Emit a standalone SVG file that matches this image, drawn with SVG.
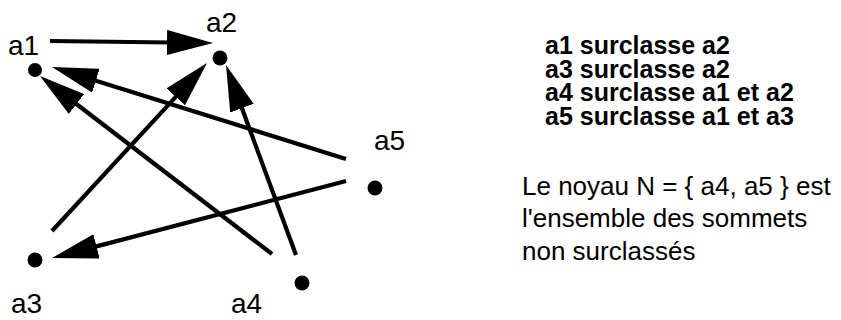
<svg xmlns="http://www.w3.org/2000/svg" width="841" height="320" viewBox="0 0 841 320">
<style>
  text { font-family: "Liberation Sans", Arial, sans-serif; fill: #000; }
  .lbl { font-size: 28px; }
  .txt { font-size: 26px; }
  .txtb { font-size: 25px; font-weight: bold; }
  .dot { fill: #000; }
  .edge { stroke: #000; stroke-width: 4.2; fill: none; marker-end: url(#head); }
</style>
<defs>
  <marker id="head" markerUnits="userSpaceOnUse" markerWidth="46" markerHeight="25" refX="5" refY="12.5" orient="auto" viewBox="0 0 46 25">
    <path d="M0,0 L46,12.5 L0,25 z" fill="#000"/>
  </marker>
</defs>
<rect width="841" height="320" fill="#fff"/>
<g id="connectors">
  <line class="edge" x1="50" y1="41" x2="172" y2="42.5"/>
  <line class="edge" x1="346" y1="159" x2="91.1" y2="79.2"/>
  <line class="edge" x1="272" y1="254" x2="72.5" y2="101"/>
  <line class="edge" x1="52" y1="231" x2="179.2" y2="93.1"/>
  <line class="edge" x1="296" y1="255" x2="240.2" y2="103.5"/>
  <line class="edge" x1="346" y1="181" x2="91.7" y2="247.6"/>
</g>
<g id="a1"><circle class="dot" cx="35" cy="70" r="7"/><text class="lbl" x="8" y="55">a1</text></g>
<g id="a2"><circle class="dot" cx="220" cy="58" r="7.5"/><text class="lbl" x="206" y="32">a2</text></g>
<g id="a3"><circle class="dot" cx="35" cy="260" r="7.5"/><text class="lbl" x="11" y="313">a3</text></g>
<g id="a4"><circle class="dot" cx="302" cy="283" r="7.5"/><text class="lbl" x="231" y="313">a4</text></g>
<g id="a5"><circle class="dot" cx="375" cy="188" r="7.5"/><text class="lbl" x="374" y="150">a5</text></g>
<g id="legend">
  <text class="txtb" x="545" y="54">a1 surclasse a2</text>
  <text class="txtb" x="545" y="78">a3 surclasse a2</text>
  <text class="txtb" x="545" y="101">a4 surclasse a1 et a2</text>
  <text class="txtb" x="545" y="125">a5 surclasse a1 et a3</text>
  <text class="txt" x="522" y="195">Le noyau N = { a4, a5 } est</text>
  <text class="txt" x="522" y="227">l'ensemble des sommets</text>
  <text class="txt" x="522" y="260">non surclassés</text>
</g>
</svg>
